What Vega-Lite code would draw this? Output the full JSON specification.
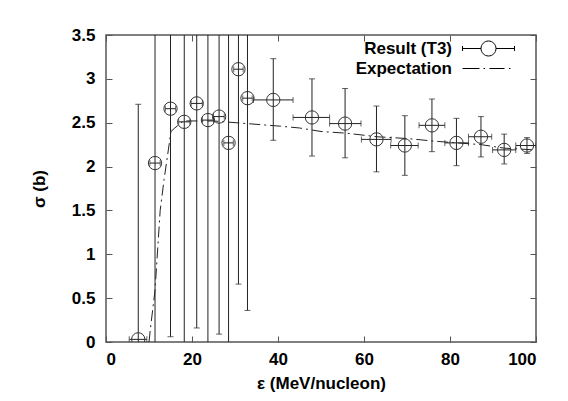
{
  "$schema": "https://vega.github.io/schema/vega-lite/v6.json",
  "width": 430,
  "height": 307,
  "autosize": "none",
  "padding": {"left": 106, "top": 35, "right": 32, "bottom": 59},
  "background": "white",
  "config": {
    "view": {"stroke": "#555555", "strokeWidth": 1.5},
    "font": "Liberation Sans",
    "axis": {
      "labelFont": "Liberation Sans",
      "labelFontSize": 17,
      "labelFontWeight": "bold",
      "labelColor": "black",
      "titleFont": "Liberation Sans",
      "titleFontSize": 17,
      "titleFontWeight": "bold",
      "titleColor": "black",
      "grid": false,
      "domain": false,
      "tickColor": "#555555",
      "tickSize": -6,
      "tickWidth": 1
    }
  },
  "datasets": {
    "res": [
      {"x": 7.5, "y": 0.03, "xlo": 5.4, "xhi": 9.5, "ylo": -1, "yhi": 2.71},
      {"x": 11.4, "y": 2.04, "xlo": 10.2, "xhi": 12.6, "ylo": -1, "yhi": 5},
      {"x": 15.0, "y": 2.66, "xlo": 13.8, "xhi": 16.2, "ylo": 0.06, "yhi": 5},
      {"x": 18.2, "y": 2.51, "xlo": 16.9, "xhi": 19.5, "ylo": -1, "yhi": 5},
      {"x": 21.1, "y": 2.72, "xlo": 19.8, "xhi": 22.4, "ylo": 0.16, "yhi": 5},
      {"x": 23.7, "y": 2.53, "xlo": 22.4, "xhi": 25.0, "ylo": -1, "yhi": 5},
      {"x": 26.3, "y": 2.57, "xlo": 25.0, "xhi": 27.5, "ylo": 0.09, "yhi": 5},
      {"x": 28.5, "y": 2.27, "xlo": 27.4, "xhi": 29.6, "ylo": -1, "yhi": 5},
      {"x": 30.8, "y": 3.11, "xlo": 29.7, "xhi": 31.9, "ylo": 0.66, "yhi": 5},
      {"x": 32.9, "y": 2.78, "xlo": 31.8, "xhi": 34.0, "ylo": 0.36, "yhi": 5},
      {"x": 38.9, "y": 2.76, "xlo": 34.3, "xhi": 43.5, "ylo": 2.30, "yhi": 3.23},
      {"x": 47.9, "y": 2.56, "xlo": 43.5, "xhi": 52.0, "ylo": 2.12, "yhi": 3.00},
      {"x": 55.6, "y": 2.49, "xlo": 52.0, "xhi": 59.3, "ylo": 2.10, "yhi": 2.89},
      {"x": 62.9, "y": 2.31, "xlo": 59.4, "xhi": 66.3, "ylo": 1.94, "yhi": 2.69},
      {"x": 69.5, "y": 2.24, "xlo": 66.2, "xhi": 72.6, "ylo": 1.90, "yhi": 2.58},
      {"x": 75.8, "y": 2.47, "xlo": 72.8, "xhi": 78.8, "ylo": 2.17, "yhi": 2.77},
      {"x": 81.5, "y": 2.27, "xlo": 78.8, "xhi": 84.3, "ylo": 2.01, "yhi": 2.55},
      {"x": 87.2, "y": 2.34, "xlo": 84.3, "xhi": 89.7, "ylo": 2.11, "yhi": 2.57},
      {"x": 92.6, "y": 2.19, "xlo": 89.9, "xhi": 95.3, "ylo": 2.03, "yhi": 2.37},
      {"x": 97.9, "y": 2.24, "xlo": 95.3, "xhi": 100.0, "ylo": 2.15, "yhi": 2.33}
    ],
    "exp": [
      {"x": 10.0, "y": 0.0},
      {"x": 10.3, "y": 0.14},
      {"x": 11.4, "y": 0.59},
      {"x": 12.6, "y": 1.5},
      {"x": 13.5, "y": 1.85},
      {"x": 14.5, "y": 2.19},
      {"x": 15.1, "y": 2.40},
      {"x": 16.0, "y": 2.44},
      {"x": 18.0, "y": 2.52},
      {"x": 25.0, "y": 2.52},
      {"x": 32.8, "y": 2.49},
      {"x": 40.6, "y": 2.46},
      {"x": 45.0, "y": 2.44},
      {"x": 50.0, "y": 2.40},
      {"x": 56.0, "y": 2.38},
      {"x": 63.0, "y": 2.34},
      {"x": 70.0, "y": 2.32},
      {"x": 76.3, "y": 2.29},
      {"x": 81.7, "y": 2.27},
      {"x": 87.2, "y": 2.25},
      {"x": 92.6, "y": 2.21},
      {"x": 99.6, "y": 2.19}
    ],
    "leg": [
      {"s": "Result (T3)"},
      {"s": "Expectation"}
    ]
  },
  "resolve": {"axis": {"x": "independent", "y": "independent"}},
  "layer": [
    {
      "data": {"name": "exp"},
      "mark": {"type": "line", "color": "#222222", "strokeWidth": 1, "strokeDash": [11, 4, 2, 4], "clip": true},
      "encoding": {
        "x": {"field": "x", "type": "quantitative", "scale": {"domain": [0, 100], "nice": false},
          "axis": {"orient": "bottom", "values": [0, 20, 40, 60, 80, 100], "title": "ε (MeV/nucleon)", "labelPadding": 15, "titlePadding": 8}},
        "y": {"field": "y", "type": "quantitative", "scale": {"domain": [0, 3.5], "nice": false, "zero": false},
          "axis": {"orient": "left", "values": [0, 0.5, 1, 1.5, 2, 2.5, 3, 3.5], "format": "~g", "title": "σ (b)", "labelPadding": 17, "titlePadding": 23}}
      }
    },
    {
      "data": {"name": "res"},
      "mark": {"type": "rule", "color": "#222222", "strokeWidth": 1, "clip": true},
      "encoding": {
        "x": {"field": "x", "type": "quantitative",
          "axis": {"orient": "top", "values": [0, 20, 40, 60, 80, 100], "labels": false, "title": null}},
        "y": {"field": "ylo", "type": "quantitative",
          "axis": {"orient": "right", "values": [0, 0.5, 1, 1.5, 2, 2.5, 3, 3.5], "labels": false, "title": null}},
        "y2": {"field": "yhi"}
      }
    },
    {
      "data": {"name": "res"},
      "mark": {"type": "rule", "color": "#222222", "strokeWidth": 1, "clip": true},
      "encoding": {
        "x": {"field": "xlo", "type": "quantitative", "axis": null},
        "x2": {"field": "xhi"},
        "y": {"field": "y", "type": "quantitative", "axis": null}
      }
    },
    {
      "data": {"name": "res"},
      "mark": {"type": "tick", "orient": "horizontal", "color": "#222222", "thickness": 1, "size": 6, "clip": true},
      "encoding": {
        "x": {"field": "x", "type": "quantitative", "axis": null},
        "y": {"field": "yhi", "type": "quantitative", "axis": null}
      }
    },
    {
      "data": {"name": "res"},
      "mark": {"type": "tick", "orient": "horizontal", "color": "#222222", "thickness": 1, "size": 6, "clip": true},
      "encoding": {
        "x": {"field": "x", "type": "quantitative", "axis": null},
        "y": {"field": "ylo", "type": "quantitative", "axis": null}
      }
    },
    {
      "data": {"name": "res"},
      "mark": {"type": "tick", "orient": "vertical", "color": "#222222", "thickness": 1, "size": 6, "clip": true},
      "encoding": {
        "x": {"field": "xlo", "type": "quantitative", "axis": null},
        "y": {"field": "y", "type": "quantitative", "axis": null}
      }
    },
    {
      "data": {"name": "res"},
      "mark": {"type": "tick", "orient": "vertical", "color": "#222222", "thickness": 1, "size": 6, "clip": true},
      "encoding": {
        "x": {"field": "xhi", "type": "quantitative", "axis": null},
        "y": {"field": "y", "type": "quantitative", "axis": null}
      }
    },
    {
      "data": {"name": "res"},
      "mark": {"type": "point", "shape": "circle", "filled": false, "color": "#333333", "strokeWidth": 1, "size": 177, "opacity": 1, "clip": true},
      "encoding": {
        "x": {"field": "x", "type": "quantitative", "axis": null},
        "y": {"field": "y", "type": "quantitative", "axis": null}
      }
    },
    {
      "data": {"name": "leg"},
      "mark": {"type": "point", "filled": false, "color": "black", "opacity": 0},
      "encoding": {
        "shape": {
          "field": "s", "type": "nominal",
          "scale": {
            "domain": ["Result (T3)", "Expectation"],
            "range": [
              "M-3.71,0H-1.07M1.07,0H3.71M-3.71,-0.36V0.36M3.71,-0.36V0.36M1.07,0A1.07,1.07 0 1 1 -1.07,0A1.07,1.07 0 1 1 1.07,0",
              "M-3.71,0H-1.29M-0.71,0H-0.5M0.14,0H2.29M2.93,0H3.14"
            ]
          },
          "legend": {
            "title": null,
            "orient": "none",
            "legendX": 374,
            "legendY": 5,
            "symbolSize": 196,
            "symbolOpacity": 1,
            "symbolStrokeColor": "black",
            "symbolFillColor": "transparent",
            "symbolStrokeWidth": 1,
            "labelAlign": "right",
            "labelOffset": -45,
            "labelFont": "Liberation Sans",
            "labelFontSize": 17,
            "labelFontWeight": "bold",
            "labelColor": "black",
            "labelLimit": 0,
            "rowPadding": 1
          }
        }
      }
    }
  ]
}
